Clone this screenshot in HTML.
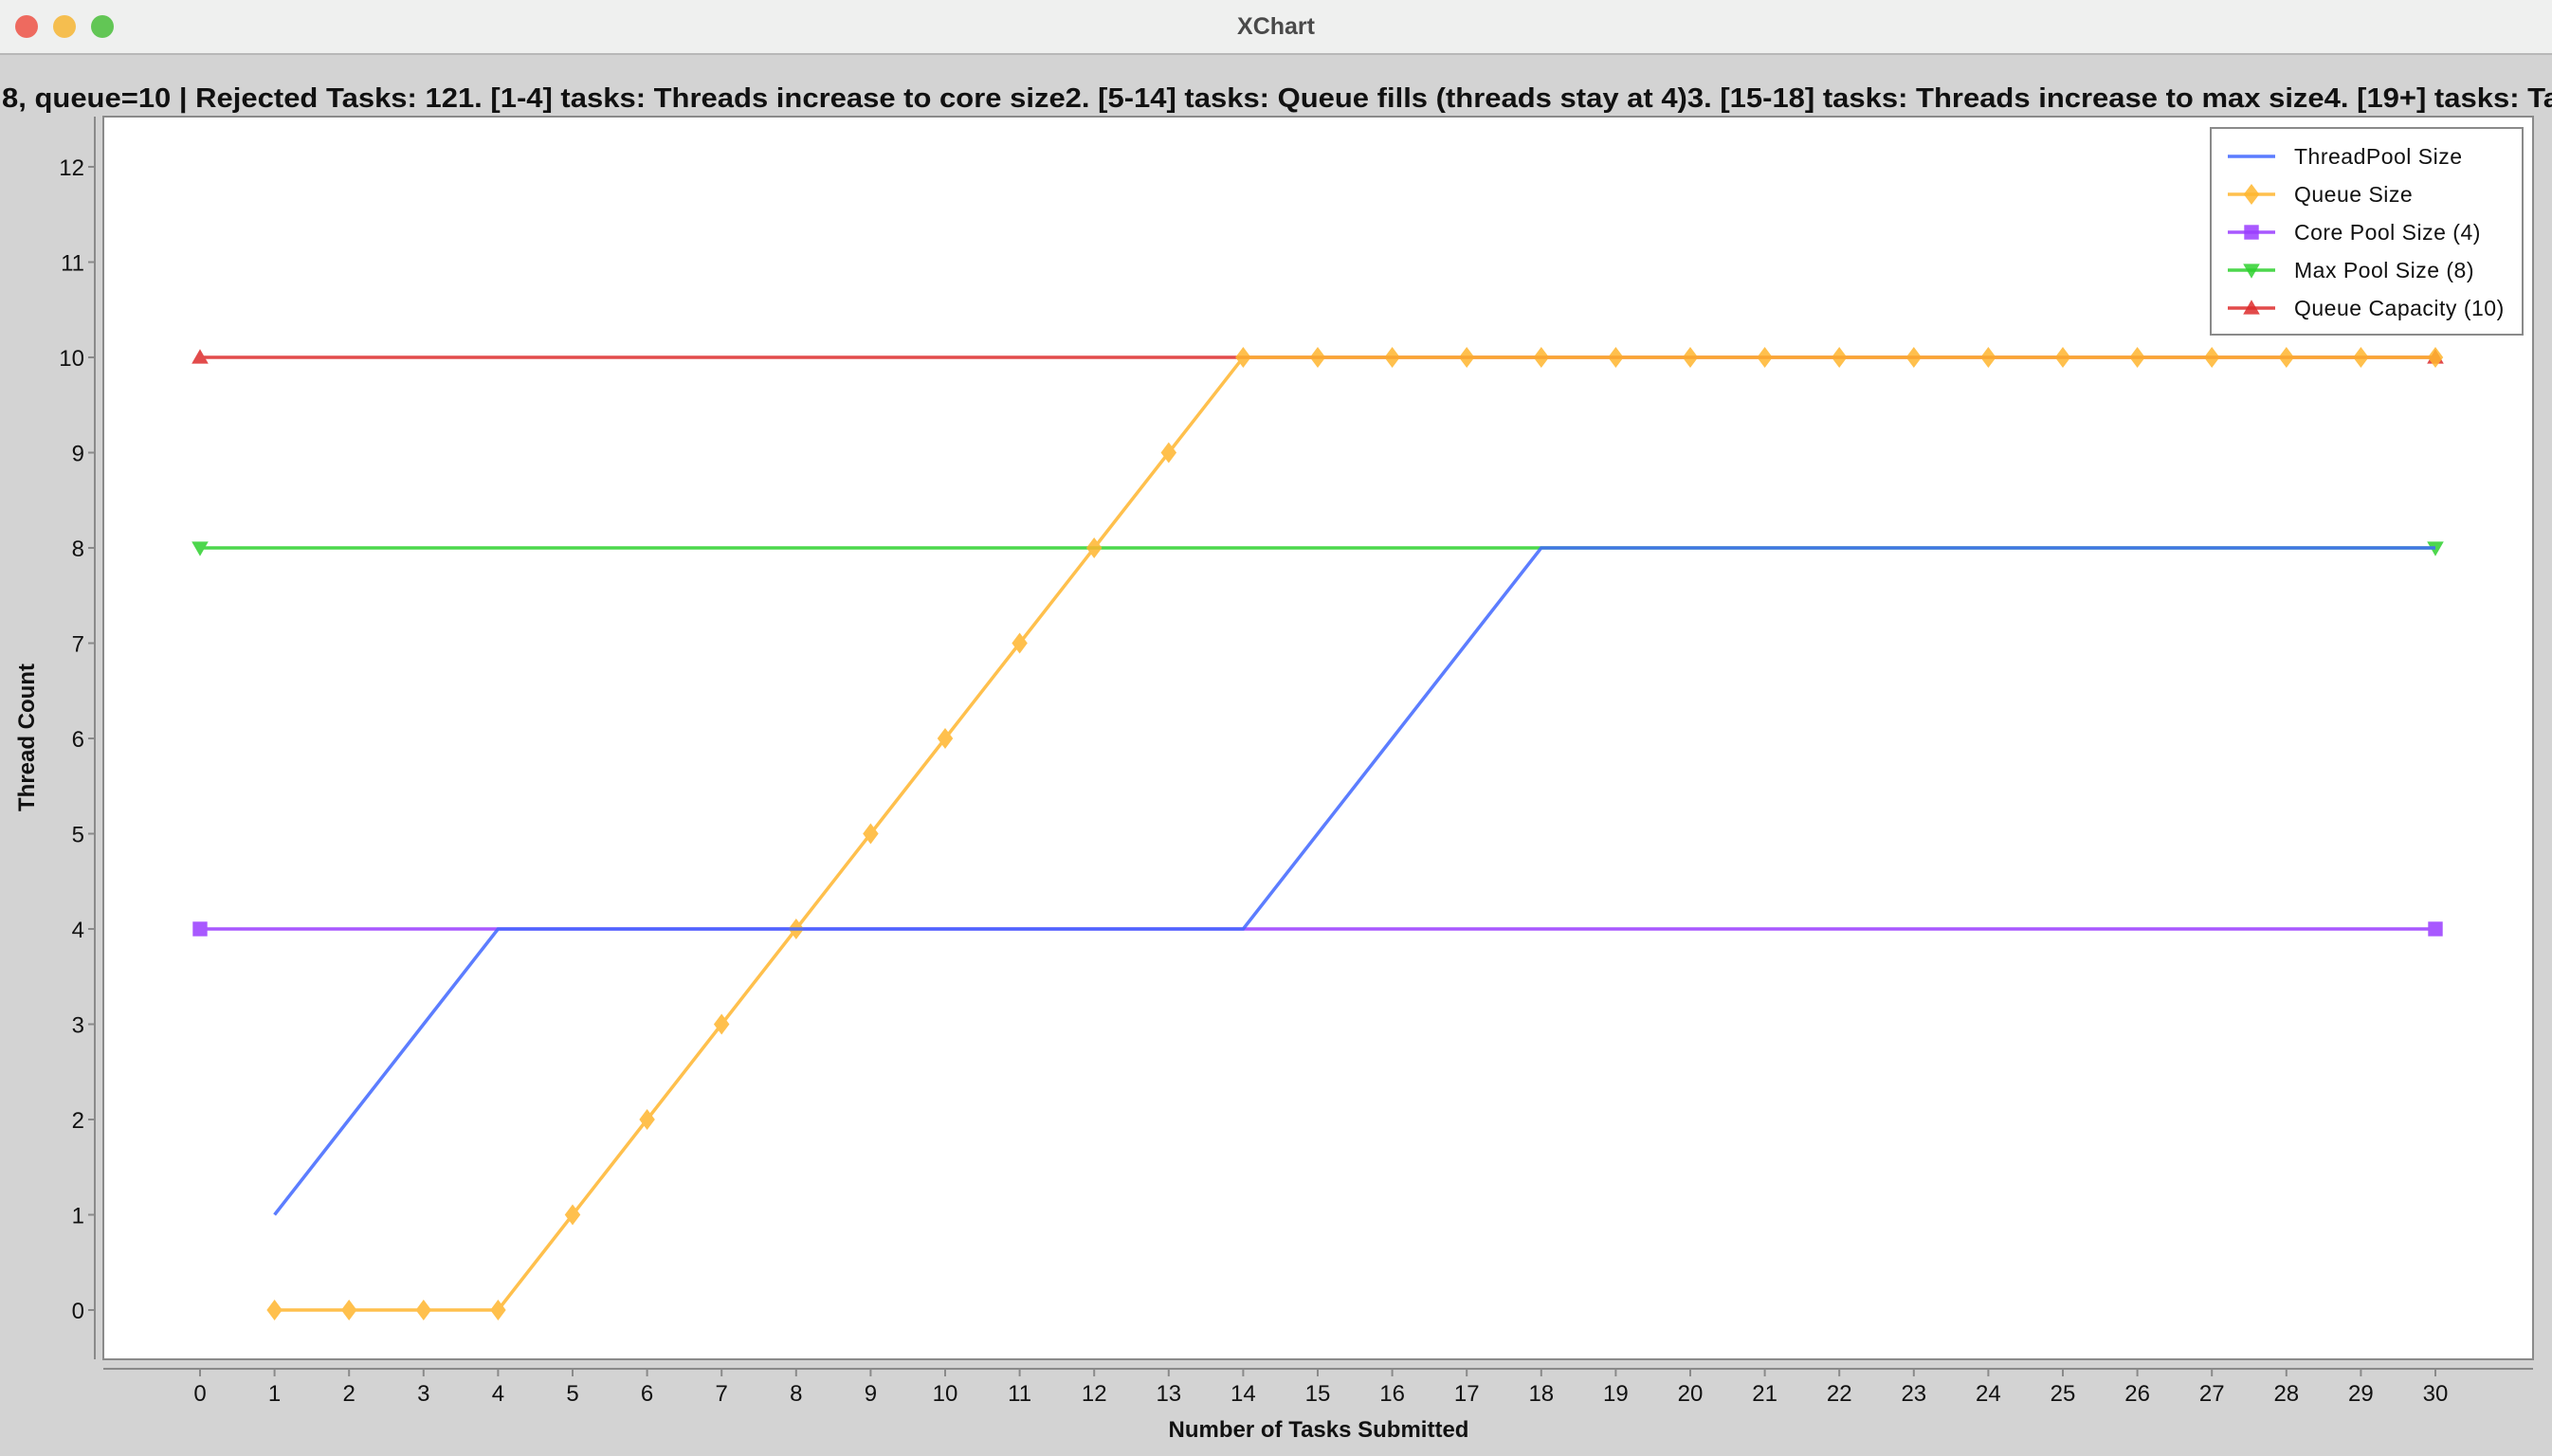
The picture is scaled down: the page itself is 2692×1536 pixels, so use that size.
<!DOCTYPE html>
<html><head><meta charset="utf-8"><style>
html,body{margin:0;padding:0;width:2692px;height:1536px;overflow:hidden;background:#d3d3d3;font-family:"Liberation Sans","DejaVu Sans",sans-serif;}
svg{display:block}
</style></head><body>
<svg id="c" width="2692" height="1536" xmlns="http://www.w3.org/2000/svg">
<rect x="0" y="0" width="2692" height="1536" fill="#d3d3d3"/>
<rect x="0" y="0" width="2692" height="57" fill="#eff0ef"/>
<line x1="0" y1="57" x2="2692" y2="57" stroke="#b8b8b8" stroke-width="2"/>
<circle cx="28" cy="28" r="12" fill="#ee6a5f"/>
<circle cx="68" cy="28" r="12" fill="#f5be4f"/>
<circle cx="108" cy="28" r="12" fill="#62c655"/>
<text x="1346" y="36" text-anchor="middle" font-size="25" font-weight="bold" fill="#4a4a4a">XChart</text>
<text x="2" y="113" font-size="29" font-weight="bold" fill="#111" textLength="2698" lengthAdjust="spacingAndGlyphs">8, queue=10 | Rejected Tasks: 121. [1-4] tasks: Threads increase to core size2. [5-14] tasks: Queue fills (threads stay at 4)3. [15-18] tasks: Threads increase to max size4. [19+] tasks: Ta</text>
<rect x="109" y="123" width="2563" height="1311" fill="#fff" stroke="#8a8a8a" stroke-width="2"/>
<line x1="100" y1="123" x2="100" y2="1434" stroke="#8a8a8a" stroke-width="2"/>
<line x1="109" y1="1444" x2="2672" y2="1444" stroke="#8a8a8a" stroke-width="2"/>
<g id="axes"></g>
<g id="series"></g>
<text transform="translate(36,778) rotate(-90)" text-anchor="middle" font-size="24" font-weight="bold" fill="#111">Thread Count</text>
<text x="1391" y="1516" text-anchor="middle" font-size="24" font-weight="bold" fill="#111">Number of Tasks Submitted</text>
<g>
<rect x="2332" y="135" width="329" height="218" fill="#fff" stroke="#8a8a8a" stroke-width="2"/>
<g id="legend"></g>
</g>
</svg>
<script>
const xTicks = [0,1,2,3,4,5,6,7,8,9,10,11,12,13,14,15,16,17,18,19,20,21,22,23,24,25,26,27,28,29,30];
const yTicks = [0,1,2,3,4,5,6,7,8,9,10,11,12];
const tpX = [1,2,3,4,5,6,7,8,9,10,11,12,13,14,15,16,17,18,19,20,21,22,23,24,25,26,27,28,29,30];
const tpY = [1,2,3,4,4,4,4,4,4,4,4,4,4,4,5,6,7,8,8,8,8,8,8,8,8,8,8,8,8,8];
const qX = [1,2,3,4,5,6,7,8,9,10,11,12,13,14,15,16,17,18,19,20,21,22,23,24,25,26,27,28,29,30];
const qY = [0,0,0,0,1,2,3,4,5,6,7,8,9,10,10,10,10,10,10,10,10,10,10,10,10,10,10,10,10,10];
const coreX = [0,30], coreY = [4,4];
const maxX = [0,30], maxY = [8,8];
const capX = [0,30], capY = [10,10];
const seriesNames = ["ThreadPool Size","Queue Size","Core Pool Size (4)","Max Pool Size (8)","Queue Capacity (10)"];

const NS = "http://www.w3.org/2000/svg";
const xs = v => 211 + v * 78.6;
const ys = v => 1382 - v * 100.5;
function mk(tag, attrs, parent){const e=document.createElementNS(NS,tag);for(const k in attrs)e.setAttribute(k,attrs[k]);parent.appendChild(e);return e;}
const axes = document.getElementById('axes');
xTicks.forEach(t=>{
  const l=mk('line',{x1:xs(t),x2:xs(t),y1:1444,y2:1452,stroke:'#8a8a8a','stroke-width':2},axes);
  
  
  const tx=mk('text',{x:xs(t),y:1478,'text-anchor':'middle','font-size':24,fill:'#111'},axes);
  tx.textContent=t;
  
  
});
yTicks.forEach(t=>{
  const l=mk('line',{x1:93,x2:100,y1:ys(t),y2:ys(t),stroke:'#8a8a8a','stroke-width':2},axes);
  
  
  const tx=mk('text',{x:89,y:ys(t)+9,'text-anchor':'end','font-size':24,fill:'#111'},axes);
  tx.textContent=t;
  
  
});
function marker(type,cx,cy,color,parent,s){
  let e;
  if(type==='diamond') e=mk('polygon',{points:`${cx},${cy-s} ${cx+s*0.75},${cy} ${cx},${cy+s} ${cx-s*0.75},${cy}`,fill:color},parent);
  else if(type==='square') e=mk('rect',{x:cx-s*0.7,y:cy-s*0.7,width:s*1.4,height:s*1.4,fill:color},parent);
  else if(type==='down') e=mk('polygon',{points:`${cx-s*0.8},${cy-s*0.6} ${cx+s*0.8},${cy-s*0.6} ${cx},${cy+s*0.8}`,fill:color},parent);
  else if(type==='up') e=mk('polygon',{points:`${cx-s*0.8},${cy+s*0.6} ${cx+s*0.8},${cy+s*0.6} ${cx},${cy-s*0.8}`,fill:color},parent);
  return e;
}
const ser = document.getElementById('series');
const defs = [
  {x:capX,y:capY,c:'#dd2c2c',m:'up',n:'series-queue-capacity'},
  {x:maxX,y:maxY,c:'#2ed12e',m:'down',n:'series-max-pool-size'},
  {x:coreX,y:coreY,c:'#9a3cff',m:'square',n:'series-core-pool-size'},
  {x:qX,y:qY,c:'#ffb62e',m:'diamond',n:'series-queue-size'},
  {x:tpX,y:tpY,c:'#3f66ff',m:null,n:'series-threadpool-size'}
];
defs.forEach(d=>{
  const g=mk('g',{opacity:0.85},ser);
  
  
  const pts=d.x.map((v,i)=>xs(v)+','+ys(d.y[i])).join(' ');
  const pl=mk('polyline',{points:pts,fill:'none',stroke:d.c,'stroke-width':3.5},g);
  
  
  if(d.m) d.x.forEach((v,i)=>{
    const e=marker(d.m,xs(v),ys(d.y[i]),d.c,g,11);
    
    
  });
});
const leg=document.getElementById('legend');
const legColors=['#3f66ff','#ffb62e','#9a3cff','#2ed12e','#dd2c2c'];
const legM=[null,'diamond','square','down','up'];
seriesNames.forEach((n,i)=>{
  const y=165+i*40;
  const g=mk('g',{},leg);
  
  
  mk('line',{x1:2350,x2:2400,y1:y,y2:y,stroke:legColors[i],'stroke-width':3.5,opacity:0.85},g);
  if(legM[i]){const m=marker(legM[i],2375,y,legColors[i],g,11);m.setAttribute('opacity',0.85);}
  const t=mk('text',{x:2420,y:y+8,'font-size':23,fill:'#111','letter-spacing':'0.5'},g);
  t.textContent=n;
});
</script>
</body></html>
